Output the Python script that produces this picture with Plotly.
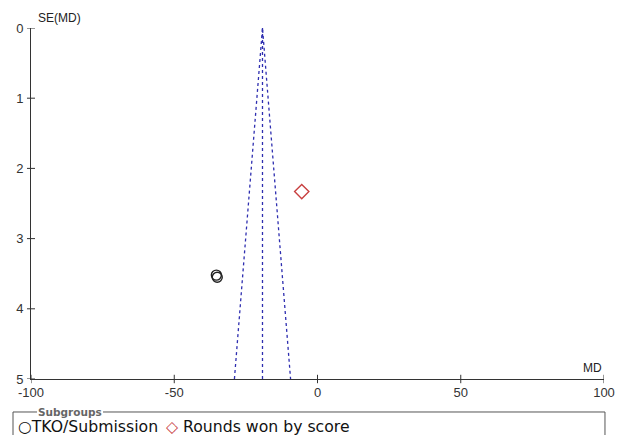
import plotly.graph_objects as go

# Data
tko_md = [-35.3, -35.0]
tko_se = [3.52, 3.55]
score_md = [-5.5]
score_se = [2.33]
pooled_md = -19.2
max_se = 5.0
x_ticks = [-100, -50, 0, 50, 100]
y_ticks = [0, 1, 2, 3, 4, 5]

fig = go.Figure()

half = 1.96 * max_se
funnel_col = "#2e2eb0"
fig.add_trace(go.Scatter(x=[pooled_md - half, pooled_md, pooled_md + half],
                         y=[max_se, 0, max_se], mode="lines",
                         line=dict(color=funnel_col, width=1.3, dash="3px,3px"),
                         hoverinfo="skip", showlegend=False))
fig.add_trace(go.Scatter(x=[pooled_md, pooled_md], y=[0, max_se], mode="lines",
                         line=dict(color=funnel_col, width=1.3, dash="3px,3px"),
                         hoverinfo="skip", showlegend=False))

fig.add_trace(go.Scatter(x=tko_md, y=tko_se, mode="markers", name="TKO/Submission",
                         marker=dict(symbol="circle-open", size=10, color="#222222",
                                     line=dict(width=1.4)), showlegend=False))
fig.add_trace(go.Scatter(x=score_md, y=score_se, mode="markers", name="Rounds won by score",
                         marker=dict(symbol="diamond-open", size=11, color="#c84040",
                                     line=dict(width=1.4)), showlegend=False))

axis_col = "#333333"
shapes = []
for t in x_ticks:
    shapes.append(dict(type="line", xref="x", yref="paper", x0=t, x1=t, y0=-0.012, y1=0.012,
                       line=dict(color=axis_col, width=1)))
for t in y_ticks:
    shapes.append(dict(type="line", xref="paper", yref="y", x0=-0.007, x1=0.007, y0=t, y1=t,
                       line=dict(color=axis_col, width=1)))

# legend box
shapes.append(dict(type="path", xref="paper", yref="paper",
                   path="M 0.0105,-0.094 L -0.0314,-0.094 L -0.0314,-0.2 L 1.0017,-0.2 L 1.0017,-0.094 L 0.1257,-0.094",
                   line=dict(color="#555555", width=1)))

tick_font = dict(family="Liberation Sans, Arial", size=13, color="#333333")
fig.update_layout(
    width=618, height=427,
    margin=dict(l=23, r=22, t=20, b=56),
    paper_bgcolor="white", plot_bgcolor="white",
    showlegend=False,
    shapes=shapes,
    xaxis=dict(range=[-100, 100], tickvals=x_ticks, ticktext=[str(t) for t in x_ticks],
               showgrid=False, zeroline=False, showline=True, linecolor=axis_col, linewidth=1,
               ticks="", ticklabelstandoff=1, tickfont=tick_font, automargin=False),
    yaxis=dict(range=[5, 0], tickvals=y_ticks, ticktext=[str(t) for t in y_ticks],
               showgrid=False, zeroline=False, showline=True, linecolor=axis_col, linewidth=1,
               ticks="", ticklabelstandoff=4, tickfont=tick_font, automargin=False),
    annotations=[
        dict(text="SE(MD)", xref="paper", yref="paper", x=0.0087, y=1.0, xanchor="left",
             yanchor="bottom", yshift=1, showarrow=False,
             font=dict(family="Liberation Sans, Arial", size=12, color="#222222")),
        dict(text="MD", xref="paper", yref="paper", x=1.0, y=0.0, xanchor="right",
             yanchor="bottom", yshift=2, showarrow=False,
             font=dict(family="Liberation Sans, Arial", size=12, color="#222222")),
        dict(text="<b>Subgroups</b>", xref="paper", yref="paper", x=0.068, y=-0.094,
             xanchor="center", yanchor="middle", showarrow=False,
             font=dict(family="DejaVu Sans", size=10.5, color="#666666")),
        dict(text="○TKO/Submission", xref="paper", yref="paper", x=-0.0227, y=-0.136,
             xanchor="left", yanchor="middle", xshift=-2, showarrow=False,
             font=dict(family="DejaVu Sans", size=15.7, color="#111111")),
        dict(text="<span style='color:#c84040'>◇</span> Rounds won by score",
             xref="paper", yref="paper", x=(166 - 31) / 573, y=-0.136, xanchor="left",
             yanchor="middle", xshift=-2, showarrow=False,
             font=dict(family="DejaVu Sans", size=15.7, color="#111111")),
    ],
)

fig.write_html("out.html")
